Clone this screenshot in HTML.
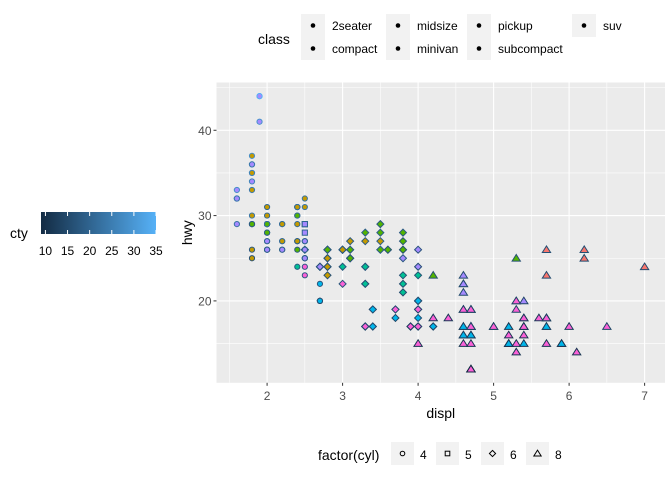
<!DOCTYPE html>
<html><head><meta charset="utf-8">
<style>
body{margin:0;background:#fff;}
svg{display:block;font-family:"Liberation Sans",Arial,sans-serif;}
</style></head>
<body>
<svg id="c" width="672" height="480" viewBox="0 0 672 480" xmlns="http://www.w3.org/2000/svg">
<rect x="0" y="0" width="672" height="480" fill="#fff"/>
<g id="panel"></g>
<g id="axes"></g>
<g id="pts"></g>
<g id="leg"></g>
</svg>
<script>
// mpg dataset, one line per model group
const displ=[
1.8,1.8,2.0,2.0,2.8,2.8,3.1,
1.8,1.8,2.0,2.0,2.8,2.8,3.1,3.1,
2.8,3.1,4.2,
5.3,5.3,5.3,5.7,6.0,
5.7,5.7,6.2,6.2,7.0,
5.3,5.3,5.7,6.5,
2.4,2.4,3.1,3.5,3.6,
2.4,3.0,3.3,3.3,3.3,3.3,3.3,3.8,3.8,3.8,4.0,
3.7,3.7,3.9,3.9,4.7,4.7,4.7,5.2,5.2,
3.9,4.7,4.7,4.7,5.2,5.7,5.9,
4.7,4.7,4.7,4.7,4.7,4.7,5.2,5.2,5.7,5.9,
4.6,5.4,5.4,
4.0,4.0,4.0,4.0,4.6,5.0,
4.2,4.2,4.6,4.6,4.6,5.4,5.4,
3.8,3.8,4.0,4.0,4.6,4.6,4.6,4.6,5.4,
1.6,1.6,1.6,1.6,1.6,1.8,1.8,1.8,2.0,
2.4,2.4,2.4,2.4,2.5,2.5,3.3,
2.0,2.0,2.0,2.0,2.7,2.7,2.7,
3.0,3.7,4.0,4.7,4.7,4.7,5.7,6.1,
4.0,4.2,4.4,4.6,
5.4,5.4,5.4,
4.0,4.0,4.6,5.0,
2.4,2.4,2.5,2.5,3.5,3.5,
3.0,3.0,3.5,
3.3,3.3,4.0,5.6,
3.1,3.8,3.8,3.8,5.3,
2.5,2.5,2.5,2.5,2.5,2.5,
2.2,2.2,2.5,2.5,2.5,2.5,2.5,2.5,
2.7,2.7,3.4,3.4,4.0,4.7,
2.2,2.2,2.4,2.4,3.0,3.0,3.5,
2.2,2.2,2.4,2.4,3.0,3.0,3.3,
1.8,1.8,1.8,1.8,1.8,
4.7,5.7,
2.7,2.7,2.7,3.4,3.4,4.0,4.0,
2.0,2.0,2.0,2.0,2.8,
1.9,2.0,2.0,2.0,2.0,2.5,2.5,2.8,2.8,
1.9,1.9,2.0,2.0,2.5,2.5,
1.8,1.8,2.0,2.0,2.8,2.8,3.6];
const cyl=[
4,4,4,4,6,6,6,
4,4,4,4,6,6,6,6,
6,6,8,
8,8,8,8,8,
8,8,8,8,8,
8,8,8,8,
4,4,6,6,6,
4,6,6,6,6,6,6,6,6,6,6,
6,6,6,6,8,8,8,8,8,
6,8,8,8,8,8,8,
8,8,8,8,8,8,8,8,8,8,
8,8,8,
6,6,6,6,8,8,
6,6,8,8,8,8,8,
6,6,6,6,8,8,8,8,8,
4,4,4,4,4,4,4,4,4,
4,4,4,4,6,6,6,
4,4,4,4,6,6,6,
6,6,6,8,8,8,8,8,
8,8,8,8,
8,8,8,
6,6,8,8,
4,4,4,4,6,6,
6,6,6,
6,6,6,8,
6,6,6,6,8,
4,4,4,4,4,4,
4,4,4,4,4,4,4,4,
4,4,6,6,6,8,
4,4,4,4,6,6,6,
4,4,4,4,6,6,6,
4,4,4,4,4,
8,8,
4,4,4,6,6,6,6,
4,4,4,4,6,
4,4,4,4,4,5,5,6,6,
4,4,4,4,5,5,
4,4,4,4,6,6,6];
const cty=[
18,21,20,21,16,18,18,
18,16,20,19,15,17,17,15,
15,17,16,
14,11,14,13,12,
16,15,16,15,15,
14,11,11,14,
19,22,18,18,17,
18,17,16,16,17,17,11,15,15,16,16,
15,14,13,14,14,14,9,11,11,
13,13,9,13,11,13,11,
12,9,13,13,12,9,11,11,13,11,
11,11,12,
14,15,14,14,13,13,
14,14,13,13,13,11,13,
18,18,17,16,15,15,15,15,14,
28,24,25,23,24,26,25,24,21,
18,18,21,21,18,18,19,
19,19,20,20,17,16,17,
17,15,15,14,9,14,13,11,
11,12,12,11,
11,11,12,
14,15,13,13,
21,19,23,23,19,19,
18,19,19,
14,15,14,12,
18,16,17,18,16,
18,18,20,19,20,18,
21,19,19,19,20,20,19,20,
15,16,15,15,16,14,
21,21,21,21,18,18,19,
21,21,21,22,18,18,18,
24,24,26,28,26,
11,13,
15,16,17,15,15,15,16,
21,19,21,22,17,
33,21,19,22,21,21,21,16,17,
35,29,21,19,20,20,
21,18,19,22,16,18,17];
const hwy=[
29,29,31,30,26,26,27,
26,25,28,27,25,25,25,25,
24,25,23,
20,15,20,17,17,
26,23,26,25,24,
19,14,15,17,
27,30,26,29,26,
24,24,22,22,24,24,17,22,21,23,23,
19,18,17,17,19,19,12,17,15,
17,17,12,17,16,18,15,
16,12,17,17,16,12,15,15,17,15,
17,17,18,
17,19,17,19,19,17,
17,17,16,16,17,15,17,
26,25,26,24,21,22,23,22,20,
33,32,32,29,32,34,36,36,29,
26,27,30,31,26,26,28,
26,29,28,27,24,24,24,
22,19,20,17,12,19,18,14,
15,18,18,15,
17,16,18,
17,19,19,17,
29,27,31,32,27,26,
26,26,26,
17,17,20,18,
26,26,27,28,25,
25,24,27,25,26,23,
26,26,26,26,27,25,25,27,
20,20,19,17,20,17,
29,27,31,31,26,26,28,
27,29,31,31,26,26,27,
30,33,35,37,35,
15,18,
20,20,22,17,19,18,20,
29,26,29,29,24,
44,29,26,29,29,29,29,23,24,
44,41,29,26,28,29,
29,29,28,29,26,26,26];
// class codes: T=2seater C=compact M=midsize V=minivan P=pickup B=subcompact S=suv
const classCode=(
"CCCCCCC"+"CCCCCCCC"+"MMM"+"SSSSS"+"TTTTT"+"SSSS"+"MMMMM"+"VVVVVVVVVVV"+
"PPPPPPPPP"+"SSSSSSS"+"PPPPPPPPPP"+"SSS"+"SSSSSS"+"PPPPPPP"+"BBBBBBBBB"+
"BBBBBBBBB"+"MMMMMMM"+"BBBBBBB"+"SSSSSSSS"+"SSSS"+"SSS"+"SSSS"+"CCCCCC"+
"MMM"+"SSSS"+"MMMMM"+"SSSSSS"+"BBBBBBBB"+"SSSSSS"+"MMMMMMM"+"CCCCCCC"+
"CCCCC"+"SS"+"PPPPPPP"+"CCCCC"+"CCCCCCCCC"+"BBBBBB"+"MMMMMMM").split("");
const classes=["2seater","compact","midsize","minivan","pickup","subcompact","suv"];
const classKeys=["T","C","M","V","P","B","S"];
const classColors=["#F8766D","#C49A00","#53B400","#00C094","#00B6EB","#A58AFF","#FB61D7"];
const xTicks=[2,3,4,5,6,7];
const yTicks=[20,30,40];
const ctyTicks=[10,15,20,25,30,35];
const cylLevels=[4,5,6,8];

const NS="http://www.w3.org/2000/svg";
function mk(tag,attrs,parent){const e=document.createElementNS(NS,tag);for(const k in attrs)e.setAttribute(k,attrs[k]);parent.appendChild(e);return e;}
const PL=216.5,PR=665,PT=82.5,PB=382.8;
const xmin=Math.min(...displ),xmax=Math.max(...displ),ymin=Math.min(...hwy),ymax=Math.max(...hwy);
const xpad=(xmax-xmin)*0.05,ypad=(ymax-ymin)*0.05;
const sx=v=>PL+(v-(xmin-xpad))/((xmax+xpad)-(xmin-xpad))*(PR-PL);
const sy=v=>PB-(v-(ymin-ypad))/((ymax+ypad)-(ymin-ypad))*(PB-PT);
const cmin=Math.min(...cty),cmax=Math.max(...cty);
function ctyColor(v){const t=Math.max(0,Math.min(1,(v-cmin)/(cmax-cmin)));const a=[0x13,0x2B,0x43],b=[0x56,0xB1,0xF7];return `rgb(${a.map((x,i)=>Math.round(x+(b[i]-x)*t)).join(",")})`;}

const panel=document.getElementById('panel');
mk('rect',{x:PL,y:PT,width:PR-PL,height:PB-PT,fill:'#EBEBEB'},panel);
[1.5,2.5,3.5,4.5,5.5,6.5].forEach(v=>mk('line',{x1:sx(v),x2:sx(v),y1:PT,y2:PB,stroke:'#fff','stroke-width':0.55},panel));
[15,25,35,45].forEach(v=>{if(sy(v)>=PT)mk('line',{x1:PL,x2:PR,y1:sy(v),y2:sy(v),stroke:'#fff','stroke-width':0.55},panel);});
xTicks.forEach(v=>{const l=mk('line',{x1:sx(v),x2:sx(v),y1:PT,y2:PB,stroke:'#fff','stroke-width':1.1},panel);});
yTicks.forEach(v=>{const l=mk('line',{x1:PL,x2:PR,y1:sy(v),y2:sy(v),stroke:'#fff','stroke-width':1.1},panel);});

const axes=document.getElementById('axes');
xTicks.forEach(v=>{mk('line',{x1:sx(v),x2:sx(v),y1:PB,y2:PB+3,stroke:'#333','stroke-width':1},axes);
 const t=mk('text',{x:sx(v),y:PB+17,'text-anchor':'middle','font-size':12,fill:'#4D4D4D'},axes);t.textContent=v;
 });
yTicks.forEach(v=>{mk('line',{x1:PL-3,x2:PL,y1:sy(v),y2:sy(v),stroke:'#333','stroke-width':1},axes);
 const t=mk('text',{x:PL-5,y:sy(v)+4.5,'text-anchor':'end','font-size':12,fill:'#4D4D4D'},axes);t.textContent=v;
 });
let xt=mk('text',{x:(PL+PR)/2,y:418,'text-anchor':'middle','font-size':14,fill:'#000'},axes);xt.textContent='displ';

let yt=mk('text',{x:0,y:0,transform:`translate(192,${(PT+PB)/2}) rotate(-90)`,'text-anchor':'middle','font-size':14,fill:'#000'},axes);yt.textContent='hwy';


function shape(g,c,x,y,fill,stroke,r){
 let e;
 if(c===4)e=mk('circle',{cx:x,cy:y,r:r},g);
 else if(c===5)e=mk('rect',{x:x-r,y:y-r,width:2*r,height:2*r},g);
 else if(c===6){const d=r*1.35;e=mk('polygon',{points:`${x},${y-d} ${x+d},${y} ${x},${y+d} ${x-d},${y}`},g);}
 else {const d=r*1.45;e=mk('polygon',{points:`${x},${y-d} ${x+d*1.1},${y+d*0.75} ${x-d*1.1},${y+d*0.75}`},g);}
 e.setAttribute('fill',fill);e.setAttribute('stroke',stroke);e.setAttribute('stroke-width',1);
 return e;
}
const pts=document.getElementById('pts');
for(let i=0;i<displ.length;i++){
 const ci=classKeys.indexOf(classCode[i]);
 const e=shape(pts,cyl[i],sx(displ[i]),sy(hwy[i]),classColors[ci],ctyColor(cty[i]),2.6);
 
 
}

const leg=document.getElementById('leg');
let ct=mk('text',{x:258,y:44,'font-size':14,fill:'#000'},leg);ct.textContent='class';

const colX=[301,386,467,572],rowY=[14,37];
classes.forEach((c,i)=>{const col=Math.floor(i/2),row=i%2;const x=colX[col],y=rowY[row];
 const g=mk('g',{},leg);
 mk('rect',{x:x,y:y,width:24,height:23,fill:'#F2F2F2'},g);
 mk('circle',{cx:x+12,cy:y+11.5,r:2.3,fill:'#000'},g);
 const t=mk('text',{x:x+31,y:y+16,'font-size':12,fill:'#000'},g);t.textContent=c;});
let cyt=mk('text',{x:10,y:238,'font-size':14,fill:'#000'},leg);cyt.textContent='cty';

const defs=mk('defs',{},leg);const lg=mk('linearGradient',{id:'cg',x1:0,x2:1,y1:0,y2:0},defs);
mk('stop',{offset:0,'stop-color':'#132B43'},lg);mk('stop',{offset:1,'stop-color':'#56B1F7'},lg);
const cbL=41,cbR=156;
const cb=mk('rect',{x:cbL,y:212,width:cbR-cbL,height:22,fill:'url(#cg)'},leg);

const cx=v=>cbL+(v-cmin)/(cmax-cmin)*(cbR-cbL);
ctyTicks.forEach(v=>{const x=cx(v);
 mk('line',{x1:x,x2:x,y1:212,y2:216,stroke:'#fff','stroke-width':1},leg);
 mk('line',{x1:x,x2:x,y1:230,y2:234,stroke:'#fff','stroke-width':1},leg);
 const t=mk('text',{x:x,y:255,'text-anchor':'middle','font-size':12,fill:'#000'},leg);t.textContent=v;
 });
let fy=mk('text',{x:318,y:460,'font-size':14,fill:'#000'},leg);fy.textContent='factor(cyl)';

const kx=[391,436,481,526];
cylLevels.forEach((c,i)=>{const g=mk('g',{},leg);
 mk('rect',{x:kx[i],y:442,width:23,height:23,fill:'#F2F2F2'},g);
 shape(g,c,kx[i]+11.5,453.5,'none','#000',2.3);
 const t=mk('text',{x:kx[i]+29,y:459,'font-size':12,fill:'#000'},g);t.textContent=c;});
</script>
</body></html>
